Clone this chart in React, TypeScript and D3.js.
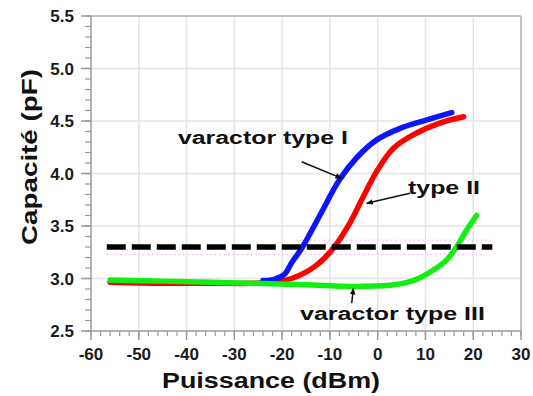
import React from "react";
import * as d3 from "d3";

const W = 533;
const H = 396;

// Series (x: dBm, y: pF)
const typeIX = [-24, -21.5, -19.5, -18, -15.6, -12, -8, -4.4, -0.2, 4.7, 10.3, 15.5];
const typeIY = [2.98, 2.995, 3.04, 3.15, 3.31, 3.61, 3.94, 4.15, 4.32, 4.43, 4.51, 4.58];

const typeIIX = [-56, -45, -35, -26, -21, -18, -15, -13, -11, -8.6, -5.8, -3, -0.2, 3.3, 7.5, 13, 18];
const typeIIY = [2.965, 2.955, 2.955, 2.955, 2.97, 3.0, 3.06, 3.12, 3.2, 3.33, 3.53, 3.78, 4.02, 4.24, 4.37, 4.48, 4.54];

const typeIIIX = [-56, -45, -35, -26.7, -15, -5.8, 2.6, 6, 9, 12, 14.5, 16.5, 18.6, 20.7];
const typeIIIY = [2.985, 2.975, 2.965, 2.955, 2.94, 2.925, 2.935, 2.96, 3.01, 3.09, 3.18, 3.3, 3.46, 3.6];

const thresholdX = [-56.7, 24];
const thresholdY = 3.3;

const xTicks = [-60, -50, -40, -30, -20, -10, 0, 10, 20, 30];
const yTicks = [2.5, 3.0, 3.5, 4.0, 4.5, 5.0, 5.5];

const xLabel = "Puissance (dBm)";
const yLabel = "Capacité (pF)";

// annotations: text anchor in data units, arrows in data units
const annotations = [
  { text: "varactor type I", x: -41.8, y: 4.281, len: 170 },
  { text: "type II", x: 6.35, y: 3.805, len: 72 },
  { text: "varactor type III", x: -16.26, y: 2.605, len: 185 },
];
const arrows = [
  { x1: -15.9, y1: 4.112, x2: -7.53, y2: 3.954 },
  { x1: 6.77, y1: 3.811, x2: -2.3, y2: 3.716 },
  { x1: -5.43, y1: 2.764, x2: -5.1, y2: 2.907 },
];

const FONT = "'Liberation Sans', Arial, Helvetica, sans-serif";

export default function App() {
  const x = d3.scaleLinear().domain([-60, 30]).range([91, 521]);
  const y = d3.scaleLinear().domain([2.5, 5.5]).range([331, 16]);

  const line = d3
    .line<[number, number]>()
    .x((d) => x(d[0]))
    .y((d) => y(d[1]))
    .curve(d3.curveCatmullRom.alpha(0.5));

  const zip = (xs: number[], ys: number[]) => xs.map((v, i) => [v, ys[i]] as [number, number]);

  const xMinor = d3.range(-60, 30.001, 2);
  const yMinor = d3.range(2.5, 5.5001, 0.1);

  const [x0, x1] = x.range();
  const [y0, y1] = y.range();

  return (
    <svg
      width={W}
      height={H}
      style={{ position: "absolute", left: 0, top: 0, background: "#fff" }}
      fontFamily={FONT}
    >
      <defs>
        <marker id="ah" viewBox="0 0 10 10" refX="9" refY="5" markerWidth="7" markerHeight="7" orient="auto" markerUnits="userSpaceOnUse">
          <path d="M0,1 L10,5 L0,9 Z" fill="#111" />
        </marker>
      </defs>

      {/* grid */}
      {xTicks.slice(1, -1).map((t) => (
        <line key={"gx" + t} x1={x(t)} x2={x(t)} y1={y1} y2={y0} stroke="#e4e4e4" strokeWidth={1.5} />
      ))}
      {yTicks.slice(1, -1).map((t) => (
        <line key={"gy" + t} x1={x0} x2={x1} y1={y(t)} y2={y(t)} stroke="#e4e4e4" strokeWidth={1.5} />
      ))}

      {/* frame */}
      <line x1={x0} x2={x1} y1={y1} y2={y1} stroke="#c4c4c4" strokeWidth={2} />
      <line x1={x1} x2={x1} y1={y1} y2={y0} stroke="#c4c4c4" strokeWidth={2} />
      <line x1={x0} x2={x1} y1={y0} y2={y0} stroke="#9a9a9a" strokeWidth={1.5} />
      <line x1={x0} x2={x0} y1={y1} y2={y0} stroke="#9a9a9a" strokeWidth={1.5} />

      {/* minor ticks */}
      {xMinor.map((t) => (
        <line key={"mx" + t} x1={x(t)} x2={x(t)} y1={y0} y2={y0 + 5} stroke="#9a9a9a" strokeWidth={1.2} />
      ))}
      {yMinor.map((t) => (
        <line key={"my" + t.toFixed(1)} x1={x0 - 6} x2={x0} y1={y(t)} y2={y(t)} stroke="#9a9a9a" strokeWidth={1.2} />
      ))}
      {/* major ticks */}
      {xTicks.map((t) => (
        <line key={"Mx" + t} x1={x(t)} x2={x(t)} y1={y0} y2={y0 + 9} stroke="#9a9a9a" strokeWidth={1.5} />
      ))}
      {yTicks.map((t) => (
        <line key={"My" + t} x1={x0 - 10} x2={x0} y1={y(t)} y2={y(t)} stroke="#9a9a9a" strokeWidth={1.5} />
      ))}

      {/* tick labels */}
      {xTicks.map((t) => (
        <text key={"lx" + t} x={x(t)} y={360} textAnchor="middle" fontSize={17} fontWeight="bold" fill="#1a1a1a">
          {t}
        </text>
      ))}
      {yTicks.map((t) => (
        <text key={"ly" + t} x={74} y={y(t) + 6} textAnchor="end" fontSize={17} fontWeight="bold" fill="#1a1a1a">
          {t.toFixed(1)}
        </text>
      ))}

      {/* axis titles */}
      <text x={271} y={388} textAnchor="middle" fontSize={22} fontWeight="bold" fill="#111" textLength={218} lengthAdjust="spacingAndGlyphs">
        {xLabel}
      </text>
      <text transform={`translate(37,157) rotate(-90)`} textAnchor="middle" fontSize={22} fontWeight="bold" fill="#111" textLength={176} lengthAdjust="spacingAndGlyphs">
        {yLabel}
      </text>

      {/* faint dotted artifacts around threshold */}
      <line x1={x(thresholdX[0])} x2={x(22)} y1={y(3.23)} y2={y(3.23)} stroke="#f2a6f2" strokeWidth={1} strokeDasharray="1.5 3" />
      <line x1={x(-17)} x2={x(thresholdX[1])} y1={y(3.365)} y2={y(3.365)} stroke="#f2a6f2" strokeWidth={1} strokeDasharray="1.5 3" />

      {/* curves */}
      <path d={line(zip(typeIIX, typeIIY)) || ""} fill="none" stroke="#ff0000" strokeWidth={5.5} strokeLinecap="round" strokeLinejoin="round" />
      <path d={line(zip(typeIX, typeIY)) || ""} fill="none" stroke="#0a14ff" strokeWidth={5.5} strokeLinecap="round" strokeLinejoin="round" />
      <path d={line(zip(typeIIIX, typeIIIY)) || ""} fill="none" stroke="#11ee11" strokeWidth={5.5} strokeLinecap="round" strokeLinejoin="round" />

      {/* threshold dashed line */}
      <line
        x1={x(thresholdX[0])}
        x2={x(thresholdX[1])}
        y1={y(thresholdY)}
        y2={y(thresholdY)}
        stroke="#000"
        strokeWidth={5.5}
        strokeDasharray="19 6"
      />

      {/* annotations */}
      {arrows.map((a, i) => (
        <line key={"ar" + i} x1={x(a.x1)} y1={y(a.y1)} x2={x(a.x2)} y2={y(a.y2)} stroke="#111" strokeWidth={1.5} markerEnd="url(#ah)" />
      ))}
      {annotations.map((a) => (
        <text key={a.text} x={x(a.x)} y={y(a.y)} fontSize={18} fontWeight="bold" fill="#111" textLength={a.len} lengthAdjust="spacingAndGlyphs">
          {a.text}
        </text>
      ))}
    </svg>
  );
}
